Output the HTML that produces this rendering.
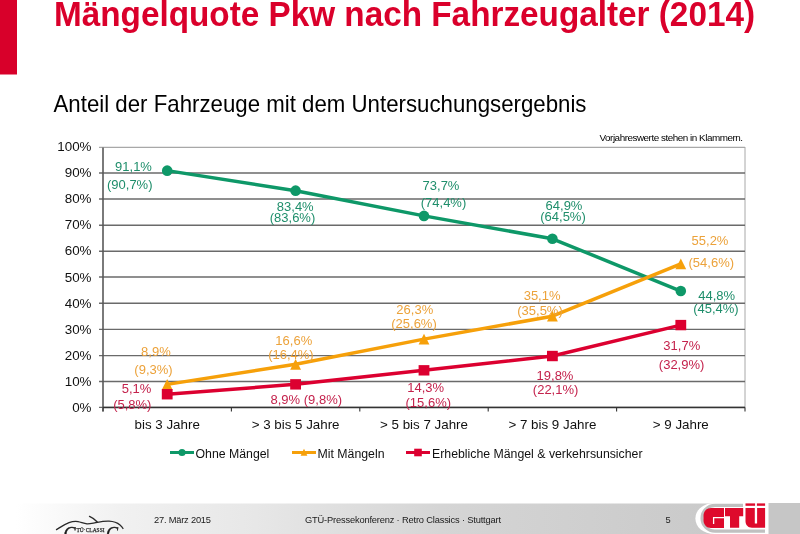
<!DOCTYPE html>
<html><head><meta charset="utf-8"><style>
html,body{margin:0;padding:0;background:#fff;width:800px;height:534px;overflow:hidden;position:relative;font-family:"Liberation Sans",sans-serif}
</style></head><body>
<svg width="800" height="534" viewBox="0 0 800 534" style="position:absolute;left:0;top:0;will-change:transform">
<defs>
<linearGradient id="fg" x1="0" y1="0" x2="1" y2="0">
<stop offset="0.02" stop-color="#ffffff"/>
<stop offset="0.15" stop-color="#f1f1f1"/>
<stop offset="0.32" stop-color="#e7e7e7"/>
<stop offset="0.55" stop-color="#d5d5d5"/>
<stop offset="0.8" stop-color="#cdcdcd"/>
<stop offset="1" stop-color="#c6c6c6"/>
</linearGradient>
</defs>
<rect x="0" y="0" width="17" height="74.5" fill="#D8002A"/>
<text x="54" y="25.8" font-family="Liberation Sans" font-weight="bold" font-size="34.3" fill="#DA002B" textLength="701" lengthAdjust="spacingAndGlyphs">Mängelquote Pkw nach Fahrzeugalter (2014)</text>
<text x="53.5" y="112.2" font-family="Liberation Sans" font-size="23.2" fill="#000" textLength="533" lengthAdjust="spacingAndGlyphs">Anteil der Fahrzeuge mit dem Untersuchungsergebnis</text>
<text x="599.5" y="141.4" font-family="Liberation Sans" font-size="9.9" fill="#000" textLength="143.5" lengthAdjust="spacing">Vorjahreswerte stehen in Klammern.</text>
<rect x="103.0" y="147.5" width="642.0" height="260.0" fill="none" stroke="#a8a8a8" stroke-width="1"/>
<line x1="99.0" y1="407.4" x2="745.0" y2="407.4" stroke="#6a6a6a" stroke-width="1.4"/>
<text x="91.5" y="412.00" text-anchor="end" font-family="Liberation Sans" font-size="13.4" fill="#111">0%</text>
<line x1="99.0" y1="381.5" x2="745.0" y2="381.5" stroke="#6a6a6a" stroke-width="1.4"/>
<text x="91.5" y="385.91" text-anchor="end" font-family="Liberation Sans" font-size="13.4" fill="#111">10%</text>
<line x1="99.0" y1="355.6" x2="745.0" y2="355.6" stroke="#6a6a6a" stroke-width="1.4"/>
<text x="91.5" y="359.82" text-anchor="end" font-family="Liberation Sans" font-size="13.4" fill="#111">20%</text>
<line x1="99.0" y1="329.4" x2="745.0" y2="329.4" stroke="#6a6a6a" stroke-width="1.4"/>
<text x="91.5" y="333.73" text-anchor="end" font-family="Liberation Sans" font-size="13.4" fill="#111">30%</text>
<line x1="99.0" y1="303.3" x2="745.0" y2="303.3" stroke="#6a6a6a" stroke-width="1.4"/>
<text x="91.5" y="307.64" text-anchor="end" font-family="Liberation Sans" font-size="13.4" fill="#111">40%</text>
<line x1="99.0" y1="277.0" x2="745.0" y2="277.0" stroke="#6a6a6a" stroke-width="1.4"/>
<text x="91.5" y="281.55" text-anchor="end" font-family="Liberation Sans" font-size="13.4" fill="#111">50%</text>
<line x1="99.0" y1="251.2" x2="745.0" y2="251.2" stroke="#6a6a6a" stroke-width="1.4"/>
<text x="91.5" y="255.46" text-anchor="end" font-family="Liberation Sans" font-size="13.4" fill="#111">60%</text>
<line x1="99.0" y1="225.2" x2="745.0" y2="225.2" stroke="#6a6a6a" stroke-width="1.4"/>
<text x="91.5" y="229.37" text-anchor="end" font-family="Liberation Sans" font-size="13.4" fill="#111">70%</text>
<line x1="99.0" y1="199.0" x2="745.0" y2="199.0" stroke="#6a6a6a" stroke-width="1.4"/>
<text x="91.5" y="203.28" text-anchor="end" font-family="Liberation Sans" font-size="13.4" fill="#111">80%</text>
<line x1="99.0" y1="173.0" x2="745.0" y2="173.0" stroke="#6a6a6a" stroke-width="1.4"/>
<text x="91.5" y="177.19" text-anchor="end" font-family="Liberation Sans" font-size="13.4" fill="#111">90%</text>
<line x1="99.0" y1="147.4" x2="745.0" y2="147.4" stroke="#a8a8a8" stroke-width="1.1"/>
<text x="91.5" y="151.10" text-anchor="end" font-family="Liberation Sans" font-size="13.4" fill="#111">100%</text>
<line x1="103.0" y1="147.5" x2="103.0" y2="411.5" stroke="#555" stroke-width="1.4"/>
<line x1="103.0" y1="407.5" x2="745.0" y2="407.5" stroke="#333" stroke-width="1.5"/>
<line x1="103.0" y1="407.5" x2="103.0" y2="411.5" stroke="#333" stroke-width="1.1"/>
<line x1="231.4" y1="407.5" x2="231.4" y2="411.5" stroke="#333" stroke-width="1.1"/>
<line x1="359.8" y1="407.5" x2="359.8" y2="411.5" stroke="#333" stroke-width="1.1"/>
<line x1="488.20000000000005" y1="407.5" x2="488.20000000000005" y2="411.5" stroke="#333" stroke-width="1.1"/>
<line x1="616.6" y1="407.5" x2="616.6" y2="411.5" stroke="#333" stroke-width="1.1"/>
<line x1="745.0" y1="407.5" x2="745.0" y2="411.5" stroke="#333" stroke-width="1.1"/>
<text x="167.2" y="429" text-anchor="middle" font-family="Liberation Sans" font-size="13.35" fill="#111">bis 3 Jahre</text>
<text x="295.6" y="429" text-anchor="middle" font-family="Liberation Sans" font-size="13.35" fill="#111">&gt; 3 bis 5 Jahre</text>
<text x="424.0" y="429" text-anchor="middle" font-family="Liberation Sans" font-size="13.35" fill="#111">&gt; 5 bis 7 Jahre</text>
<text x="552.4000000000001" y="429" text-anchor="middle" font-family="Liberation Sans" font-size="13.35" fill="#111">&gt; 7 bis 9 Jahre</text>
<text x="680.8000000000001" y="429" text-anchor="middle" font-family="Liberation Sans" font-size="13.35" fill="#111">&gt; 9 Jahre</text>
<polyline points="167.20,170.64 295.60,190.66 424.00,215.88 552.40,238.76 680.80,291.02" fill="none" stroke="#0E9868" stroke-width="3.5" stroke-linejoin="round"/>
<circle cx="167.20" cy="170.64" r="5.3" fill="#0E9868"/>
<circle cx="295.60" cy="190.66" r="5.3" fill="#0E9868"/>
<circle cx="424.00" cy="215.88" r="5.3" fill="#0E9868"/>
<circle cx="552.40" cy="238.76" r="5.3" fill="#0E9868"/>
<circle cx="680.80" cy="291.02" r="5.3" fill="#0E9868"/>
<polyline points="167.20,384.36 295.60,364.34 424.00,339.12 552.40,316.24 680.80,263.98" fill="none" stroke="#F6A00A" stroke-width="3.5" stroke-linejoin="round"/>
<polygon points="161.80,389.66 172.60,389.66 167.20,378.96" fill="#F6A00A"/>
<polygon points="290.20,369.64 301.00,369.64 295.60,358.94" fill="#F6A00A"/>
<polygon points="418.60,344.42 429.40,344.42 424.00,333.72" fill="#F6A00A"/>
<polygon points="547.00,321.54 557.80,321.54 552.40,310.84" fill="#F6A00A"/>
<polygon points="675.40,269.28 686.20,269.28 680.80,258.58" fill="#F6A00A"/>
<polyline points="167.20,394.24 295.60,384.36 424.00,370.32 552.40,356.02 680.80,325.08" fill="none" stroke="#DC0030" stroke-width="3.5" stroke-linejoin="round"/>
<rect x="161.80" y="389.04" width="10.8" height="10.4" fill="#DC0030"/>
<rect x="290.20" y="379.16" width="10.8" height="10.4" fill="#DC0030"/>
<rect x="418.60" y="365.12" width="10.8" height="10.4" fill="#DC0030"/>
<rect x="547.00" y="350.82" width="10.8" height="10.4" fill="#DC0030"/>
<rect x="675.40" y="319.88" width="10.8" height="10.4" fill="#DC0030"/>
<text x="133.5" y="170.75" text-anchor="middle" font-family="Liberation Sans" font-size="13" fill="#1F8E6B">91,1%</text>
<text x="129.75" y="189.0" text-anchor="middle" font-family="Liberation Sans" font-size="13" fill="#1F8E6B">(90,7%)</text>
<text x="295.25" y="210.5" text-anchor="middle" font-family="Liberation Sans" font-size="13" fill="#1F8E6B">83,4%</text>
<text x="292.5" y="221.6" text-anchor="middle" font-family="Liberation Sans" font-size="13" fill="#1F8E6B">(83,6%)</text>
<text x="441.0" y="189.7" text-anchor="middle" font-family="Liberation Sans" font-size="13" fill="#1F8E6B">73,7%</text>
<text x="443.5" y="207.4" text-anchor="middle" font-family="Liberation Sans" font-size="13" fill="#1F8E6B">(74,4%)</text>
<text x="564.0" y="209.7" text-anchor="middle" font-family="Liberation Sans" font-size="13" fill="#1F8E6B">64,9%</text>
<text x="563.0" y="220.8" text-anchor="middle" font-family="Liberation Sans" font-size="13" fill="#1F8E6B">(64,5%)</text>
<text x="716.7" y="299.9" text-anchor="middle" font-family="Liberation Sans" font-size="13" fill="#1F8E6B">44,8%</text>
<text x="715.9" y="313.4" text-anchor="middle" font-family="Liberation Sans" font-size="13" fill="#1F8E6B">(45,4%)</text>
<text x="155.9" y="356.1" text-anchor="middle" font-family="Liberation Sans" font-size="13" fill="#ECA23A">8,9%</text>
<text x="153.5" y="374.2" text-anchor="middle" font-family="Liberation Sans" font-size="13" fill="#ECA23A">(9,3%)</text>
<text x="293.8" y="344.5" text-anchor="middle" font-family="Liberation Sans" font-size="13" fill="#ECA23A">16,6%</text>
<text x="290.9" y="358.8" text-anchor="middle" font-family="Liberation Sans" font-size="13" fill="#ECA23A">(16,4%)</text>
<text x="414.8" y="313.6" text-anchor="middle" font-family="Liberation Sans" font-size="13" fill="#ECA23A">26,3%</text>
<text x="414.0" y="327.75" text-anchor="middle" font-family="Liberation Sans" font-size="13" fill="#ECA23A">(25,6%)</text>
<text x="542.1" y="299.7" text-anchor="middle" font-family="Liberation Sans" font-size="13" fill="#ECA23A">35,1%</text>
<text x="540.0" y="314.6" text-anchor="middle" font-family="Liberation Sans" font-size="13" fill="#ECA23A">(35,5%)</text>
<text x="710.0" y="245.2" text-anchor="middle" font-family="Liberation Sans" font-size="13" fill="#ECA23A">55,2%</text>
<text x="711.3" y="266.6" text-anchor="middle" font-family="Liberation Sans" font-size="13" fill="#ECA23A">(54,6%)</text>
<text x="136.6" y="393.2" text-anchor="middle" font-family="Liberation Sans" font-size="13" fill="#C4224C">5,1%</text>
<text x="132.3" y="409.3" text-anchor="middle" font-family="Liberation Sans" font-size="13" fill="#C4224C">(5,8%)</text>
<text x="306.3" y="403.5" text-anchor="middle" font-family="Liberation Sans" font-size="13" fill="#C4224C">8,9% (9,8%)</text>
<text x="425.7" y="392.2" text-anchor="middle" font-family="Liberation Sans" font-size="13" fill="#C4224C">14,3%</text>
<text x="428.3" y="407.3" text-anchor="middle" font-family="Liberation Sans" font-size="13" fill="#C4224C">(15,6%)</text>
<text x="555.0" y="379.75" text-anchor="middle" font-family="Liberation Sans" font-size="13" fill="#C4224C">19,8%</text>
<text x="555.6" y="393.5" text-anchor="middle" font-family="Liberation Sans" font-size="13" fill="#C4224C">(22,1%)</text>
<text x="681.8" y="350.0" text-anchor="middle" font-family="Liberation Sans" font-size="13" fill="#C4224C">31,7%</text>
<text x="681.6" y="369.0" text-anchor="middle" font-family="Liberation Sans" font-size="13" fill="#C4224C">(32,9%)</text>
<line x1="170" y1="452.5" x2="194" y2="452.5" stroke="#0E9868" stroke-width="3"/>
<circle cx="182" cy="452.5" r="3.6" fill="#0E9868"/>
<text x="195.5" y="457.5" font-family="Liberation Sans" font-size="12.3" fill="#111">Ohne Mängel</text>
<line x1="292" y1="452.5" x2="316" y2="452.5" stroke="#F6A00A" stroke-width="3"/>
<polygon points="300.6,455.7 307.4,455.7 304,448.7" fill="#F6A00A"/>
<text x="317.5" y="457.5" font-family="Liberation Sans" font-size="12.3" fill="#111">Mit Mängeln</text>
<line x1="406" y1="452.5" x2="430" y2="452.5" stroke="#DC0030" stroke-width="3"/>
<rect x="414.2" y="448.7" width="7.6" height="7.6" fill="#DC0030"/>
<text x="432" y="457.5" font-family="Liberation Sans" font-size="12.3" fill="#111">Erhebliche Mängel &amp; verkehrsunsicher</text>
<rect x="0" y="503.5" width="800" height="30.5" fill="url(#fg)"/>
<text x="154" y="522.75" font-family="Liberation Sans" font-size="9.3" fill="#1a1a1a" textLength="57" lengthAdjust="spacing">27. März 2015</text>
<text x="305" y="522.75" font-family="Liberation Sans" font-size="9.3" fill="#1a1a1a" textLength="196" lengthAdjust="spacing">GTÜ-Pressekonferenz · Retro Classics · Stuttgart</text>
<text x="665.5" y="522.75" font-family="Liberation Sans" font-size="9.3" fill="#222">5</text>
<g fill="none" stroke="#2a2a2a" stroke-width="1.3" stroke-linecap="round"><path d="M56.5,529.6 C60,527.5 64,524.5 69,522.6 C72,521.6 75,521.2 78,521.6 C81,522.2 84,523.4 87,523.8 C90,524 93,523 97.5,522.3 C101,521.6 105,521.1 109,521.2 C113,521.4 117,522.5 120,525 C121.5,526.3 122.5,527.5 123,528.5"/><path d="M89.5,516.3 C92.5,517.6 95.5,519.6 97.3,522"/></g>
<text x="63.5" y="539.6" font-family="Liberation Serif" font-style="italic" font-size="18" fill="#1a1a1a" stroke="#1a1a1a" stroke-width="0.4">G</text>
<text x="76.5" y="531.8" font-family="Liberation Serif" font-size="7" fill="#222" stroke="#222" stroke-width="0.25" textLength="28" lengthAdjust="spacingAndGlyphs">TÜ·CLASSI</text>
<text x="106" y="539.6" font-family="Liberation Serif" font-style="italic" font-size="18" fill="#1a1a1a" stroke="#1a1a1a" stroke-width="0.4">C</text>
<rect x="768" y="503" width="32" height="31" fill="#c6c6c6"/>
<path d="M768.5,503 L715,503 C703,503 695.4,510 695.4,518.5 C695.4,527 703,534 715,534 L768.5,534 Z" fill="#fff"/>
<path d="M743,505.3 L715,505.3 A12.9,12.9 0 0 0 715,531.1 L765,531.1" fill="none" stroke="#c0c0c0" stroke-width="3.3"/>
<path d="M724,508 L711,508 C706.5,508 703.5,511.5 703.5,516 L703.5,520 C703.5,524.5 706.5,528 711,528 L724,528 Z" fill="#DE0A2C"/>
<path d="M724,517.6 L713.6,517.6 L713.6,524" fill="none" stroke="#fff" stroke-width="1.3"/>
<path d="M725,508 L743.2,508 L743.2,516.2 L739.2,516.2 L739.2,527.7 L730,527.7 L730,516.2 L725,516.2 Z" fill="#DE0A2C"/>
<rect x="745.5" y="503.4" width="9.6" height="2.4" fill="#DE0A2C"/>
<rect x="756.9" y="503.4" width="8.2" height="2.4" fill="#DE0A2C"/>
<path d="M745.5,508 L765.1,508 L765.1,527.7 L752,527.7 C748,527.7 745.5,525 745.5,521 Z" fill="#DE0A2C"/>
<rect x="754.8" y="507.5" width="2.3" height="16" fill="#fff"/>
</svg>
</body></html>
